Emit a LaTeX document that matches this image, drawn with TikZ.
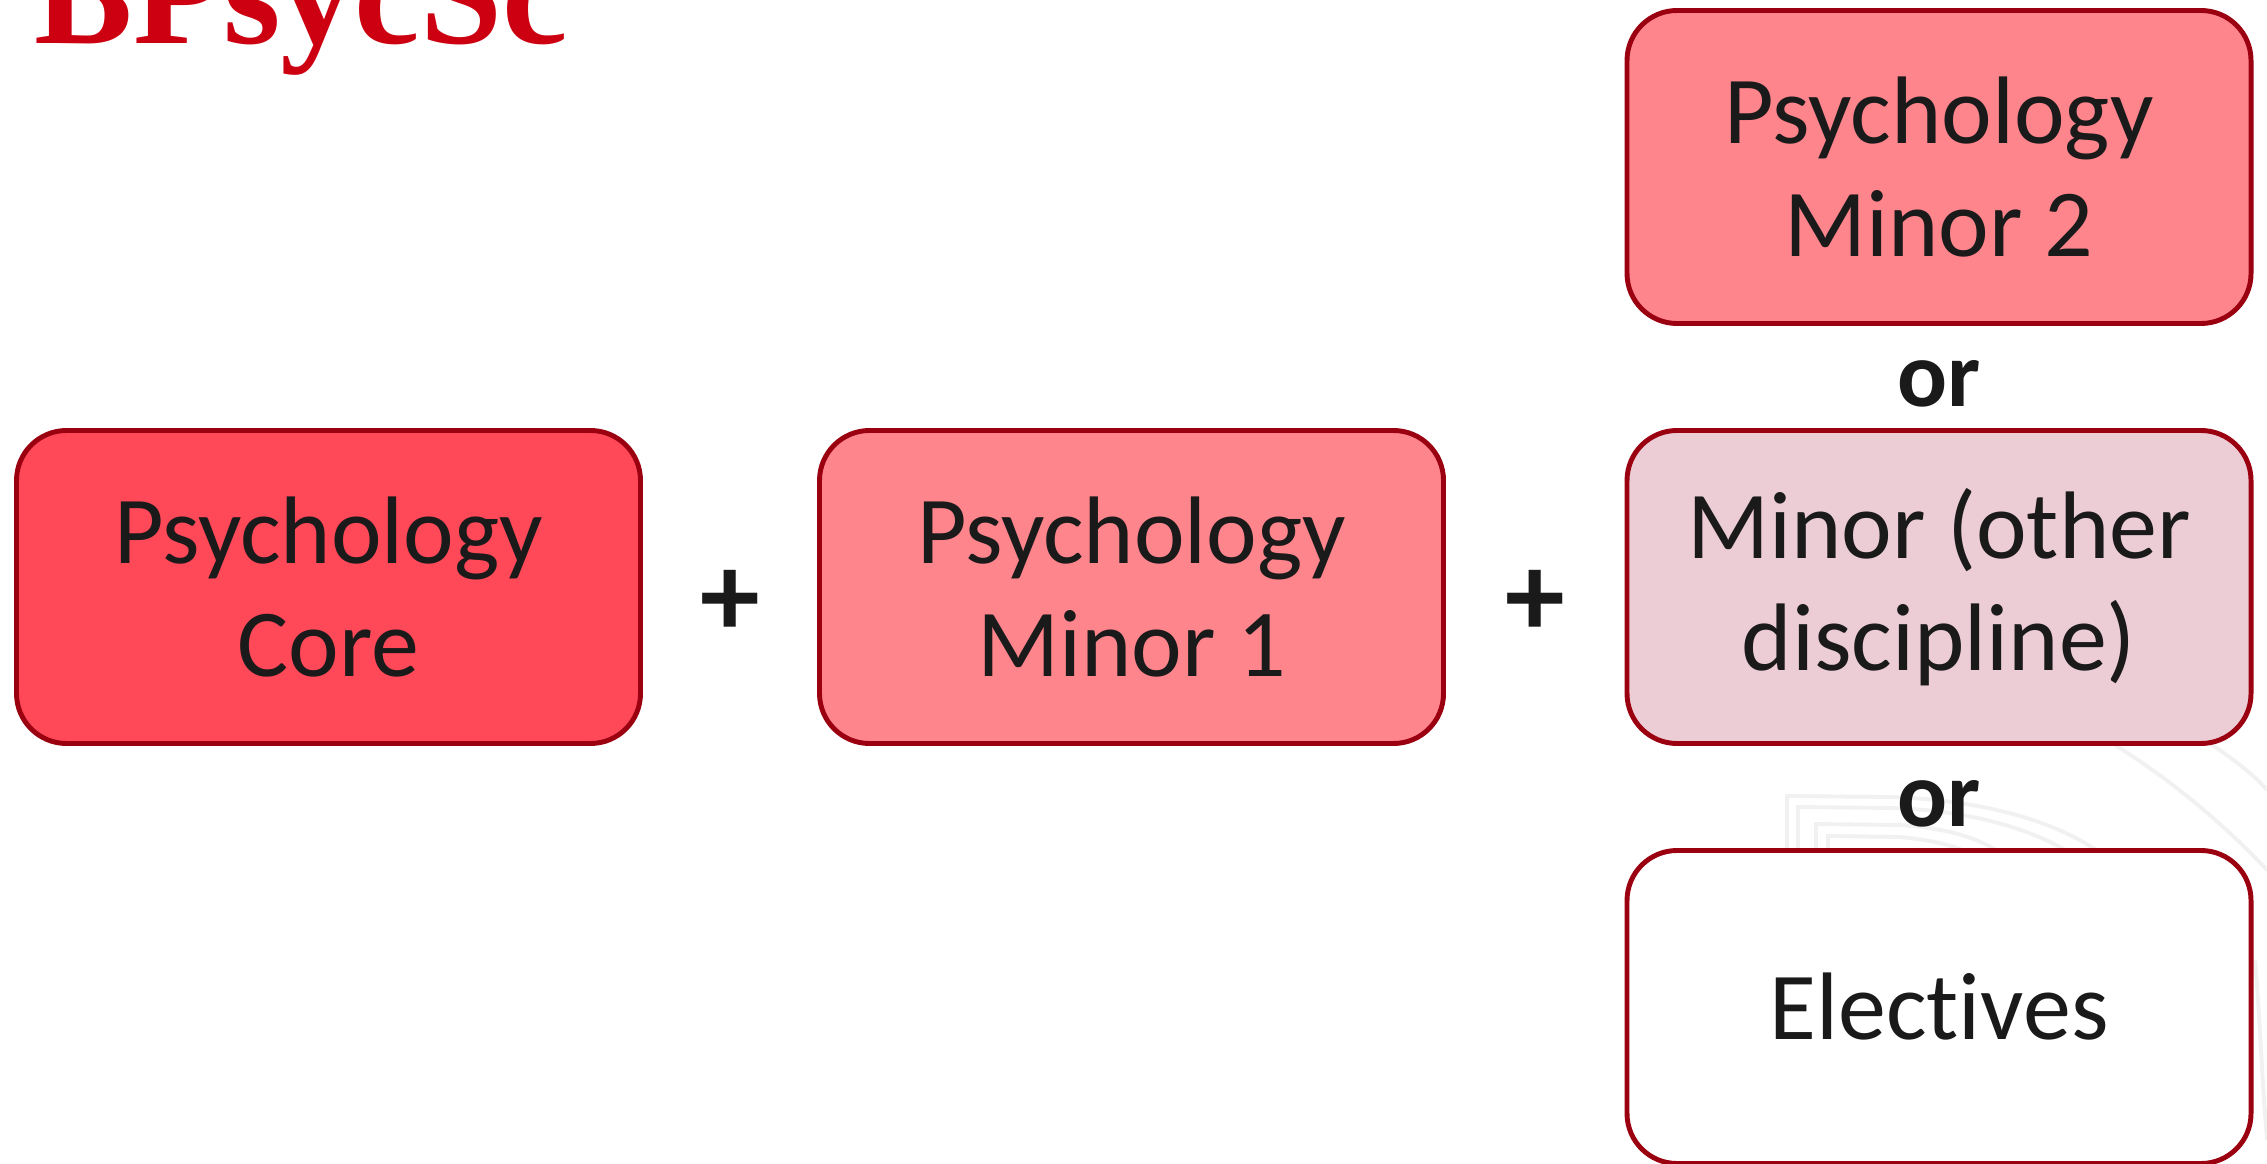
\documentclass[tikz,border=0pt]{standalone}
\usepackage{fontspec}
\setmainfont{Carlito}[Ligatures=NoCommon]
\newfontfamily\titlefont{Liberation Serif}
\usepackage{tikz}
\usetikzlibrary{calc}

\definecolor{boxline}{RGB}{155,0,16}
\definecolor{corefill}{RGB}{255,72,88}
\definecolor{minorfill}{RGB}{255,133,141}
\definecolor{otherfill}{RGB}{236,205,213}
\definecolor{inktext}{RGB}{26,26,26}
\definecolor{titlered}{RGB}{204,0,17}
\definecolor{wmgray}{RGB}{241,241,241}

\tikzset{
  coursebox/.style={draw=boxline, line width=1.4pt, rounded corners=0.5cm,
    minimum width=6.24cm, minimum height=3.13cm, align=center, text=inktext,
    font=\fontsize{27.3}{32}\selectfont},
  orword/.style={text=inktext, inner sep=0pt,
    font=\bfseries\fontsize{26.5}{32}\selectfont},
  plussign/.style={text=inktext, inner sep=0pt,
    font=\bfseries\fontsize{34}{40}\selectfont},
  watermark/.style={draw=wmgray, line width=1.1pt}
}

\begin{document}
\begin{tikzpicture}
\useasboundingbox[fill=white] (0,0) rectangle (22.67,-11.64);

% faint logo behind the right column
\draw[watermark]
(17.87,-8.6) -- (17.87,-7.96) -- (18.9,-7.97) .. controls (19.8,-8.0) and (20.6,-8.2) .. (21.1,-8.6)
(17.98,-8.6) -- (17.98,-8.07) -- (18.9,-8.08) .. controls (19.7,-8.1) and (20.4,-8.3) .. (20.8,-8.6)
(18.16,-8.6) -- (18.16,-8.24) -- (19.0,-8.25) .. controls (19.4,-8.28) and (19.8,-8.35) .. (20.1,-8.6)
(18.28,-8.6) -- (18.28,-8.36) -- (19.0,-8.37) .. controls (19.3,-8.4) and (19.6,-8.45) .. (19.8,-8.6);
\draw[watermark] (20.9,-7.3) .. controls (21.6,-7.7) and (22.2,-8.2) .. (22.67,-8.7);
\draw[watermark] (21.9,-7.3) .. controls (22.2,-7.5) and (22.5,-7.7) .. (22.67,-7.9);
\draw[watermark] (22.55,-9.6) .. controls (22.6,-10.2) and (22.62,-10.8) .. (22.67,-11.4);

% title, cut by the top edge
\node[anchor=base west, inner sep=0pt, text=titlered,
  font=\titlefont\bfseries\fontsize{42}{48}\selectfont] (title) at (0.34,-0.44) {BPsycSc};

% course blocks
\node[coursebox, fill=corefill] (core) at (3.285,-5.87) {Psychology\\Core};
\node[coursebox, fill=minorfill] (minora) at (11.315,-5.87) {Psychology\\Minor 1};
\node[coursebox, fill=minorfill] (minorb) at (19.39,-1.67) {Psychology\\Minor 2};
\node[coursebox, fill=otherfill] (other) at (19.39,-5.87) {Minor (other\\discipline)};
\node[coursebox, fill=white] (elect) at (19.39,-10.07) {Electives};

% plus signs and choices
\node[plussign] (plusa) at ($(core.east)!0.5!(minora.west)+(0,-0.16)$) {+};
\node[plussign] (plusb) at ($(minora.east)!0.5!(other.west)+(0,-0.16)$) {+};
\node[orword] (ora) at ($(minorb.south)!0.5!(other.north)+(0,-0.07)$) {or};
\node[orword] (orb) at ($(other.south)!0.5!(elect.north)+(0,-0.07)$) {or};
\end{tikzpicture}
\end{document}
